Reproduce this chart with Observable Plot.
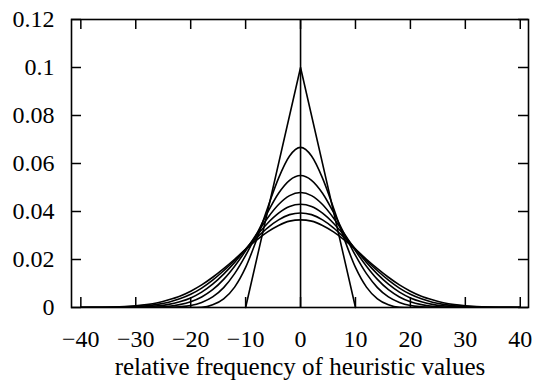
<!DOCTYPE html>
<html>
<head>
<meta charset="utf-8">
<script src="https://cdn.jsdelivr.net/npm/d3@7"></script>
<script src="https://cdn.jsdelivr.net/npm/@observablehq/plot@0.6"></script>
<style>
  html, body { margin: 0; padding: 0; background: #fff; }
</style>
</head>
<body>
<div id="chart"></div>
<script>
// ---- data ----
const xTicks = [-40, -30, -20, -10, 0, 10, 20, 30, 40];
const xTickLabels = ["\u221240", "\u221230", "\u221220", "\u221210", "0", "10", "20", "30", "40"];
const yTicks = [0, 0.02, 0.04, 0.06, 0.08, 0.1, 0.12];
const yTickLabels = ["0", "0.02", "0.04", "0.06", "0.08", "0.1", "0.12"];
const xLabel = "relative frequency of heuristic values";

// spike at 0 (value far above the top of the plot)
const spikeX = [0];
const spikeY = [1];

// triangle
const triX = [-10, 0, 10];
const triY = [0, 0.1, 0];

// smoother curves, sampled every 2 units from -40 to 40
const curveX = [-40,-38,-36,-34,-32,-30,-28,-26,-24,-22,-20,-18,-16,-14,-12,-10,-8,-6,-4,-2,0,
                 2,4,6,8,10,12,14,16,18,20,22,24,26,28,30,32,34,36,38,40];
const curve2 = [0,0,0,0,0,0,0,0,0,0,0,0.0001,0.0011,0.0036,0.0085,0.0167,0.0283,0.0415,0.0539,0.0631,0.0667,
                0.0631,0.0539,0.0415,0.0283,0.0167,0.0085,0.0036,0.0011,0.0001,0,0,0,0,0,0,0,0,0,0,0];
const curve3 = [0,0,0,0,0,0,0,0,0.0001,0.0003,0.0008,0.0021,0.0044,0.0083,0.0141,0.0217,0.0305,0.0396,0.0476,0.0530,0.0550,
                0.0530,0.0476,0.0396,0.0305,0.0217,0.0141,0.0083,0.0044,0.0021,0.0008,0.0003,0.0001,0,0,0,0,0,0,0,0];
const curve4 = [0,0,0,0,0,0,0.0001,0.0002,0.0005,0.0012,0.0024,0.0044,0.0074,0.0117,0.0172,0.0236,0.0306,0.0373,0.0429,0.0466,0.0479,
                0.0466,0.0429,0.0373,0.0306,0.0236,0.0172,0.0117,0.0074,0.0044,0.0024,0.0012,0.0005,0.0002,0.0001,0,0,0,0,0,0];
const curve5 = [0,0,0,0,0,0.0001,0.0003,0.0007,0.0013,0.0024,0.0040,0.0064,0.0097,0.0139,0.0188,0.0243,0.0299,0.0351,0.0393,0.0421,0.0430,
                0.0421,0.0393,0.0351,0.0299,0.0243,0.0188,0.0139,0.0097,0.0064,0.0040,0.0024,0.0013,0.0007,0.0003,0.0001,0,0,0,0,0];
const curve6 = [0,0,0,0.0001,0.0002,0.0004,0.0007,0.0013,0.0022,0.0036,0.0055,0.0081,0.0114,0.0153,0.0197,0.0244,0.0290,0.0332,0.0365,0.0387,0.0394,
                0.0387,0.0365,0.0332,0.0290,0.0244,0.0197,0.0153,0.0114,0.0081,0.0055,0.0036,0.0022,0.0013,0.0007,0.0004,0.0002,0.0001,0,0,0];
const curve7 = [0,0.0001,0.0001,0.0002,0.0004,0.0007,0.0012,0.0020,0.0032,0.0047,0.0068,0.0094,0.0126,0.0162,0.0201,0.0242,0.0281,0.0315,0.0342,0.0360,0.0365,
                0.0360,0.0342,0.0315,0.0281,0.0242,0.0201,0.0162,0.0126,0.0094,0.0068,0.0047,0.0032,0.0020,0.0012,0.0007,0.0004,0.0002,0.0001,0.0001,0];

// ---- tables built from the arrays ----
const curves = [curve2, curve3, curve4, curve5, curve6, curve7];
const curveRows = curves.flatMap((ys, i) => curveX.map((x, j) => ({x, y: ys[j], s: i})));
const triRows = triX.map((x, i) => ({x, y: triY[i]}));
const spikeRows = spikeX.map((x, i) => ({x, y: spikeY[i]}));
const xLab = new Map(xTicks.map((t, i) => [t, xTickLabels[i]]));
const yLab = new Map(yTicks.map((t, i) => [t, yTickLabels[i]]));

const W = 533, H = 381;
const mL = 71, mR = 5, mT = 19, mB = 74;
const innerW = W - mL - mR, innerH = H - mT - mB;
const tickLen = 10;
const FONT = "Liberation Serif";

const chart = Plot.plot({
  width: W,
  height: H,
  marginLeft: mL,
  marginRight: mR,
  marginTop: mT,
  marginBottom: mB,
  style: {fontFamily: FONT, fontSize: "24px", background: "#fff", color: "#000"},
  x: {domain: [-41.7, 41.5], axis: null},
  y: {domain: [0, 0.12], axis: null},
  marks: [
    // inward ticks on all four sides
    Plot.tickX(xTicks, {x: d => d, insetTop: innerH - tickLen, stroke: "#000", strokeWidth: 1.5}),
    Plot.tickX(xTicks, {x: d => d, insetBottom: innerH - tickLen, stroke: "#000", strokeWidth: 1.5}),
    Plot.tickY(yTicks, {y: d => d, insetRight: innerW - tickLen, stroke: "#000", strokeWidth: 1.5}),
    Plot.tickY(yTicks, {y: d => d, insetLeft: innerW - tickLen, stroke: "#000", strokeWidth: 1.5}),
    // tick labels (drawn at the scale positions of the ticks)
    Plot.text(xTicks, {x: d => d, text: d => xLab.get(d), frameAnchor: "bottom", dy: 22, lineAnchor: "top",
                       fontFamily: FONT, fontSize: 24, fill: "#000"}),
    Plot.text(yTicks, {y: d => d, text: d => yLab.get(d), frameAnchor: "left", dx: -17, textAnchor: "end",
                       fontFamily: FONT, fontSize: 24, fill: "#000"}),
    // data
    Plot.ruleX(spikeRows, {x: "x", y1: 0, y2: "y", stroke: "#000", strokeWidth: 1.6, clip: true}),
    Plot.line(triRows, {x: "x", y: "y", stroke: "#000", strokeWidth: 1.6}),
    Plot.line(curveRows, {x: "x", y: "y", z: "s", stroke: "#000", strokeWidth: 1.6, curve: "monotone-x", clip: true}),
    Plot.frame({stroke: "#000", strokeWidth: 1.6}),
    // axis title
    Plot.text([xLabel], {text: d => d, frameAnchor: "bottom", dy: 67, lineAnchor: "bottom",
                         fontFamily: FONT, fontSize: 25, fill: "#000"})
  ]
});
document.getElementById("chart").appendChild(chart);
</script>
</body>
</html>
